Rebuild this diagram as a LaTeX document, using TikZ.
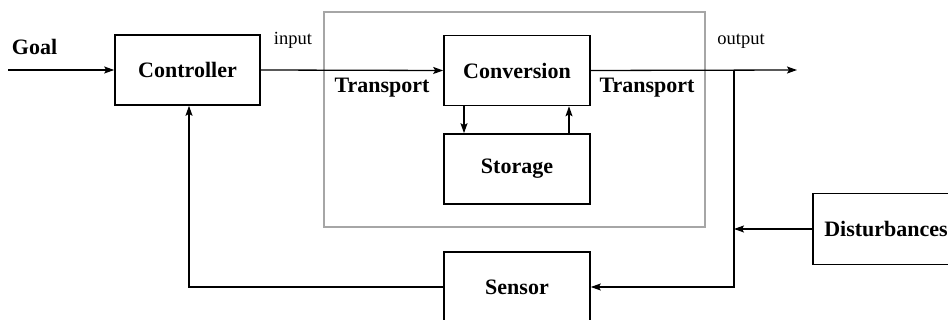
\documentclass[tikz,border=0pt]{standalone}
\usepackage{fontspec}
\setmainfont{Liberation Serif}
\usetikzlibrary{arrows.meta}
\begin{document}
\begin{tikzpicture}[x=1pt,y=-1pt,
  blk/.style={draw=black,line width=1.6pt,minimum width=146pt,minimum height=70pt,inner sep=0pt,font=\bfseries\fontsize{22}{22}\selectfont},
  lbl/.style={font=\fontsize{18.5}{18.5}\selectfont,inner sep=0pt,anchor=base},
  blbl/.style={font=\bfseries\fontsize{22}{22}\selectfont,inner sep=0pt,anchor=base},
  conn/.style={line width=1.3pt,-{Stealth[length=10pt,width=7pt,inset=2pt]}},
  plain/.style={line width=1.3pt}]
\useasboundingbox (0,0) rectangle (948,320);
\draw[gray!70,line width=1.3pt] (324,12) rectangle (705,227);
\node[blk,minimum width=145pt] (ctrl) at (187.5,70) {Controller};
\node[blk] (conv) at (517,70.5) {Conversion};
\node[blk] (stor) at (517,169) {Storage};
\node[blk] (sens) at (517,287) {Sensor};
\node[blk,minimum height=71pt] (dist) at (886,229) {Disturbances};
\node[blbl] (goal) at (34.5,55) {Goal};
\node[lbl] (inp) at (293,45) {input};
\node[lbl] (outp) at (741,45) {output};
\node[blbl] (tl) at (382,93) {Transport};
\node[blbl] (tr) at (647,93) {Transport};
\coordinate (gstart) at (8,70);
\coordinate (oend) at (797,70);
\coordinate (tap) at (734,70);
\coordinate (tapb) at (734,287);
\coordinate (fb) at (189,287);
\draw[conn] (gstart) -- (ctrl.west);
\draw[conn] (ctrl.east) -- (conv.west);
\draw[conn] (conv.east) -- (oend);
\draw[conn] (tap) -- (tapb) -- (sens.east);
\draw[conn] (dist.west) -- (dist.west -| tap);
\draw[conn] (sens.west) -- (fb) -- (ctrl.south -| fb);
\draw[conn] (conv.south -| 464,0) -- (stor.north -| 464,0);
\draw[conn] (stor.north -| 569,0) -- (conv.south -| 569,0);
\end{tikzpicture}
\end{document}
